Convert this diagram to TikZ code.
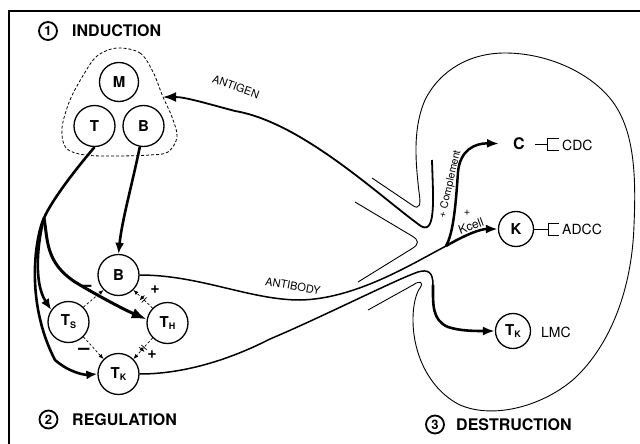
\documentclass[tikz,border=0pt]{standalone}
\usepackage{fontspec}
\setmainfont{TeX Gyre Heros}
\usepackage{tikz}
\usetikzlibrary{arrows.meta,decorations.markings}

\newcommand{\tcell}[1]{T\raisebox{-.35ex}{\fontsize{9}{9}\selectfont #1}}

\begin{document}
\begin{tikzpicture}[x=1pt,y=-1pt,
    cell/.style={circle,draw,line width=1.3pt,minimum size=41pt,inner sep=0pt,font=\fontsize{15}{15}\selectfont\bfseries},
    smallcell/.style={cell,minimum size=35pt},
    heading/.style={anchor=west,inner sep=0pt,font=\fontsize{16}{16}\selectfont\bfseries},
    numring/.style={circle,draw,line width=1.8pt,minimum size=18pt,inner sep=0pt,font=\fontsize{13}{13}\selectfont\bfseries},
    feed/.style={line width=2.6pt,-{Latex[length=11pt,width=9pt]}},
    ctrl/.style={dash pattern=on 2.5pt off 2pt,line width=0.7pt,-{Latex[length=5pt,width=4pt]}},
    crossed/.style={postaction={decorate},decoration={markings,mark=at position 0.5 with {\draw[line width=0.7pt,solid] (-1.5pt,-3.5pt) -- (-1.5pt,3.5pt) (1.5pt,-3.5pt) -- (1.5pt,3.5pt);}}},
    pipe/.style={line width=0.9pt},
    tag/.style={inner sep=0pt,font=\fontsize{11}{11}\selectfont},
    sign/.style={inner sep=0pt,font=\fontsize{16}{16}\selectfont\bfseries},
    effect/.style={anchor=west,inner sep=0pt,font=\fontsize{14}{14}\selectfont}]
    \useasboundingbox (0,0) rectangle (640,444);

    % frame
    \draw[line width=2.2pt] (9,444) -- (9,11) -- (640,11);

    % headings
    \node[numring] (one) at (48,31) {1};
    \node[heading] (induction) at (72,31) {INDUCTION};
    \node[numring] (two) at (48.5,419.5) {2};
    \node[heading] (regulation) at (72,419.5) {REGULATION};
    \node[numring] (three) at (435,424.5) {3};
    \node[heading] (destruction) at (456,424.5) {DESTRUCTION};

    % induction
    \draw[dash pattern=on 3pt off 2pt,line width=0.8pt] plot[smooth cycle,tension=0.55] coordinates {(117,48) (140,53) (153,72) (163,97) (172,117) (177,137) (168,152) (150,155) (117,156) (85,155) (66,148) (62,128) (70,100) (84,74) (97,56)};
    \coordinate (gate) at (163,97);
    \node[cell,minimum size=39pt] (m) at (119,82) {M};
    \node[cell] (t) at (94.5,126) {T};
    \node[cell] (b) at (143.5,126) {B};

    % regulation
    \node[cell] (breg) at (118.5,275) {B};
    \node[cell] (ts) at (68.5,322) {\tcell{S}};
    \node[cell] (th) at (167.5,323) {\tcell{H}};
    \node[cell] (tkreg) at (118.5,374) {\tcell{K}};

    \coordinate (split) at (44,218);
    \draw[line width=2.6pt] (t.south) .. controls (75,170) and (52,200) .. (split);
    \draw[feed] (split) .. controls (38,240) and (33,282) .. (ts.145);
    \draw[feed] (split) .. controls (36,235) and (24,300) .. (55,360) .. controls (70,373) and (85,375) .. (tkreg.west);
    \draw[line width=3pt,-{Latex[length=15pt,width=11pt]}] (split) .. controls (48,240) and (45,262) .. (75,282) .. controls (100,297) and (125,310) .. (th.170);
    \draw[feed] (b.260) .. controls (132,185) and (122,220) .. (breg.north);

    \draw[ctrl] (ts.45) -- (breg.225);
    \draw[ctrl] (ts.-45) -- (tkreg.135);
    \draw[ctrl,crossed] (th.135) -- (breg.-45);
    \draw[ctrl,crossed] (th.-135) -- (tkreg.45);
    \node[sign,font=\fontsize{20}{20}\selectfont\bfseries] (minusb) at (86,288) {--};
    \node[sign,font=\fontsize{20}{20}\selectfont\bfseries] (minusk) at (84,351) {--};
    \node[sign] (plusb) at (155,290) {+};
    \node[sign] (plusk) at (152,355) {+};

    % destruction region
    \draw[pipe] (372,178) -- (412,205) .. controls (420,211) and (421,204) .. (419,192)
        .. controls (416,165) and (412,130) .. (425,100) .. controls (440,70) and (470,53) .. (505,53)
        .. controls (550,53) and (595,75) .. (615,105) .. controls (635,135) and (636,180) .. (634,225)
        .. controls (632,290) and (610,345) .. (575,378) .. controls (545,405) and (495,420) .. (460,405)
        .. controls (430,390) and (413,355) .. (413,320) .. controls (413,302) and (417,292) .. (420,288)
        .. controls (424,282) and (420,280) .. (413,285) -- (368,310);
    \draw[pipe] (355,202) -- (412,236) .. controls (419,240) and (419,244) .. (413,248) -- (358,282);

    \node[smallcell] (k) at (516,229) {K};
    \node[smallcell] (tkdes) at (513,331) {\tcell{K}};
    \node[inner sep=0pt,font=\fontsize{16}{16}\selectfont\bfseries] (c) at (519,144) {C};

    % antigen
    \draw[line width=1.8pt,-{Latex[length=13pt,width=10pt]}] (432,160) .. controls (433,198) and (437,240) .. (418,224)
        .. controls (375,192) and (300,122) .. (235,111) .. controls (205,103) and (185,97) .. (gate);
    \node[tag,rotate=-20] (antigen) at (236,87) {ANTIGEN};

    % antibody
    \coordinate (fork) at (446,246);
    \draw[line width=1.5pt] (breg.east) .. controls (200,275) and (250,300) .. (300,300) .. controls (355,299) and (410,265) .. (fork);
    \draw[line width=2.5pt,-{Latex[length=12pt,width=9pt]}] (fork) .. controls (465,235) and (480,229) .. (k.west);
    \draw[line width=2.5pt,-{Latex[length=12pt,width=9pt]},shorten >=14pt] (fork) .. controls (454,232) and (456,200) .. (458,172) .. controls (460,150) and (475,143) .. (c.west);
    \node[tag,rotate=-10] (antibody) at (293,286) {ANTIBODY};
    \node[tag,rotate=77,font=\fontsize{10.5}{10.5}\selectfont] (complement) at (450,184) {+ Complement};
    \node[tag] (kplus) at (467,213) {+};
    \node[tag,rotate=20,font=\fontsize{12}{12}\selectfont] (kcell) at (471,226) {Kcell};

    % killer T line
    \draw[line width=1.5pt] (tkreg.east) .. controls (180,374) and (225,362) .. (270,339) .. controls (320,318) and (395,280) .. (418,272)
        .. controls (428,269) and (433,272) .. (433,285) coordinate (tkturn);
    \draw[line width=2.6pt,-{Latex[length=12pt,width=9pt]}] (tkturn) .. controls (433,305) and (432,320) .. (448,327) .. controls (460,331) and (475,331) .. (tkdes.west);

    % effector labels
    \draw[line width=1pt] (c.east) ++(10,0) -- ++(13,0) ++(11,-6) -- ++(-11,0) -- ++(0,12) -- ++(11,0);
    \node[effect] (cdc) at (562,145) {CDC};
    \draw[line width=1pt] (k.east) -- ++(14,0) ++(11,-6) -- ++(-11,0) -- ++(0,12) -- ++(11,0);
    \node[effect] (adcc) at (562,229) {ADCC};
    \node[effect] (lmc) at (541,332) {LMC};
\end{tikzpicture}
\end{document}
